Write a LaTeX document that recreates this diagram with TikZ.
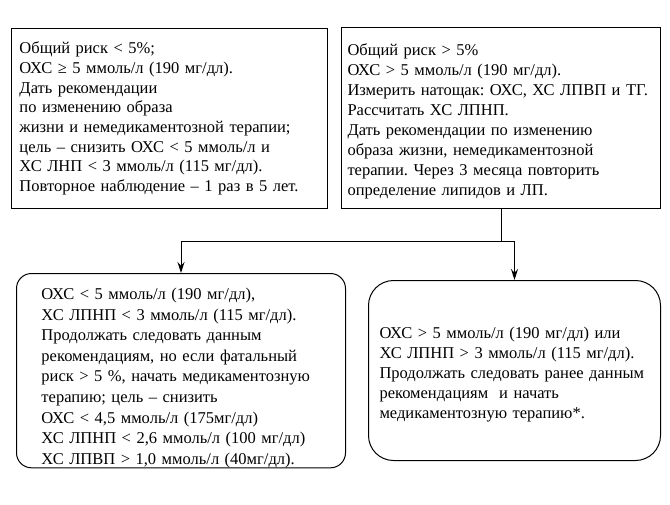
\documentclass[tikz,border=0pt]{standalone}
\usepackage{fontspec}
\setmainfont{Liberation Serif}
\usetikzlibrary{positioning,shapes,arrows,arrows.meta}

\begin{document}
\frenchspacing
\begin{tikzpicture}[x=1pt,y=-1pt]
  \tikzstyle{link}=[line width=1pt,-{Stealth[length=11pt,width=7pt]}]
  \tikzstyle{box}=[draw, line width=1pt, anchor=north west, align=left,
    inner ysep=0pt, font=\fontsize{16.5}{20}\selectfont]
  \useasboundingbox (0,0) rectangle (670,504);

  % risque faible
  \node[box, minimum width=316, minimum height=180, text width=300, inner xsep=8,
    font=\fontsize{16.5}{19.7}\selectfont] (low) at (11,28)
  {Общий риск < 5\%;\\
   ОХС ≥ 5 ммоль/л (190 мг/дл).\\
   Дать рекомендации\\
   по изменению образа\\
   жизни и немедикаментозной терапии;\\
   цель – снизить ОХС < 5 ммоль/л и\\
   ХС ЛНП < 3 ммоль/л (115 мг/дл).\\
   Повторное наблюдение – 1 раз в 5 лет.};

  % risque eleve
  \node[box, minimum width=319, minimum height=181, text width=307, inner xsep=6] (high) at (341,27)
  {\rule{0pt}{18pt}Общий риск > 5\%\\
   ОХС > 5 ммоль/л (190 мг/дл).\\
   Измерить натощак: ОХС, ХС ЛПВП и ТГ.\\
   Рассчитать ХС ЛПНП.\\
   Дать рекомендации по изменению\\
   образа жизни, немедикаментозной\\
   терапии. Через 3 месяца повторить\\
   определение липидов и ЛП.};

  % resultats
  \node[box, rounded corners=15, minimum width=329, minimum height=192, text width=279, inner xsep=25,
    font=\fontsize{16.5}{20.6}\selectfont] (ok) at (16,273)
  {\rule{0pt}{26pt}ОХС < 5 ммоль/л (190 мг/дл),\\
   ХС ЛПНП < 3 ммоль/л (115 мг/дл).\\
   Продолжать следовать данным\\
   рекомендациям, но если фатальный\\
   риск > 5 \%, начать медикаментозную\\
   терапию; цель – снизить\\
   ОХС < 4,5 ммоль/л (175мг/дл)\\
   ХС ЛПНП < 2,6 ммоль/л (100 мг/дл)\\
   ХС ЛПВП > 1,0 ммоль/л (40мг/дл).};

  \node[box, rounded corners=25, minimum width=292, minimum height=180, text width=270, inner xsep=11] (drug) at (368,280)
  {\rule{0pt}{20pt}ОХС > 5 ммоль/л (190 мг/дл) или\\
   ХС ЛПНП > 3 ммоль/л (115 мг/дл).\\
   Продолжать следовать ранее данным\\
   рекомендациям~ и начать\\
   медикаментозную терапию*.};

  % liens
  \coordinate (split) at (high.south |- 0,241);
  \draw[line width=1pt] (high.south) -- (split);
  \draw[link] (split) -| (ok.north);
  \draw[link] (split) -| (drug.north);
\end{tikzpicture}
\end{document}
